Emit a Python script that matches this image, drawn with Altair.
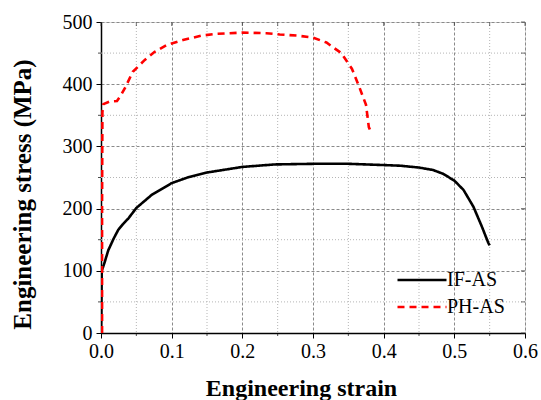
import altair as alt
import pandas as pd

# ---- data ----
if_strain = [0.0, 0.0005, 0.0008, 0.001, 0.0047, 0.0103, 0.018, 0.0245, 0.031, 0.0386, 0.05, 0.0717,
             0.1, 0.125, 0.15, 0.2, 0.246, 0.3, 0.35, 0.4, 0.423, 0.45, 0.47, 0.484, 0.5, 0.513,
             0.527, 0.539, 0.548, 0.55]
if_stress = [0, 30, 70, 100, 112, 133, 152, 166, 175, 184, 201, 222,
             241, 251, 258, 267, 271, 272, 272, 270, 269, 266, 262, 256, 245, 230,
             203, 171, 145, 141]

ph_strain = [0.0015, 0.0015, 0.002, 0.0035, 0.012, 0.0226, 0.028, 0.034, 0.045, 0.062, 0.076, 0.093,
             0.116, 0.142, 0.164, 0.182, 0.2, 0.234, 0.253, 0.279, 0.3, 0.319, 0.34, 0.355,
             0.365, 0.375, 0.379, 0.383]
ph_stress = [0, 200, 355, 368, 372, 373, 382, 394, 420, 439, 452, 463,
             471, 478, 481, 482, 483, 482, 480, 478, 475, 467, 450, 425,
             397, 367, 331, 320]

series_names = ["IF-AS", "PH-AS"]
series_colors = ["black", "red"]
series_dash = [[1, 0], [7, 5]]

x_major = [0.0, 0.1, 0.2, 0.3, 0.4, 0.5, 0.6]
x_minor = [0.05, 0.15, 0.25, 0.35, 0.45, 0.55]
y_major = [0, 100, 200, 300, 400, 500]
y_minor = [50, 150, 250, 350, 450]

FONT = "Liberation Serif"

rows = []
for i, (s, t) in enumerate(zip(if_strain, if_stress)):
    rows.append({"strain": s, "stress": t, "series": series_names[0], "idx": i})
for i, (s, t) in enumerate(zip(ph_strain, ph_stress)):
    rows.append({"strain": s, "stress": t, "series": series_names[1], "idx": i})
df = pd.DataFrame(rows)

xscale = alt.Scale(domain=[0, 0.6], nice=False, zero=False)
yscale = alt.Scale(domain=[0, 500], nice=False)

xaxis = alt.Axis(values=x_major, format=".1f", title="Engineering strain",
                 grid=True, gridColor="#8a8a8a", gridDash=[3, 2], gridWidth=1,
                 tickSize=5, tickColor="black", tickWidth=1,
                 domainColor="black", domainWidth=1.5, labelFlush=False,
                 labelFont=FONT, labelFontSize=20, labelColor="black", labelPadding=3,
                 titleFont=FONT, titleFontSize=24, titleFontWeight="bold", titleColor="black",
                 titleX=200, titleY=62, titleBaseline="alphabetic", titleAlign="center")
yaxis = alt.Axis(values=y_major, title="Engineering stress (MPa)",
                 grid=True, gridColor="#8a8a8a", gridDash=[3, 2], gridWidth=1,
                 tickSize=5, tickColor="black", tickWidth=1,
                 domainColor="black", domainWidth=1.5, labelFlush=False,
                 labelFont=FONT, labelFontSize=20, labelColor="black", labelPadding=4,
                 titleFont=FONT, titleFontSize=25, titleFontWeight="bold", titleColor="black",
                 titleX=-71, titleY=172, titleBaseline="alphabetic", titleAlign="center",
                 titleAngle=270)


def X(field):
    return alt.X(field, scale=xscale, axis=xaxis, title="Engineering strain")


def Y(field):
    return alt.Y(field, scale=yscale, axis=yaxis, title="Engineering stress (MPa)")


xminor_df = pd.DataFrame({"v": x_minor})
yminor_df = pd.DataFrame({"v": y_minor})
xall_df = pd.DataFrame({"v": x_major + x_minor})
yall_df = pd.DataFrame({"v": y_major + y_minor})

# minor grid
grid_x_minor = alt.Chart(xminor_df).mark_rule(color="#b5b5b5", strokeDash=[1, 2], strokeWidth=1).encode(
    x=X("v:Q"))
grid_y_minor = alt.Chart(yminor_df).mark_rule(color="#b5b5b5", strokeDash=[1, 2], strokeWidth=1).encode(
    y=Y("v:Q"))

# minor outward ticks (bottom / left)
tick_bottom = alt.Chart(xminor_df).mark_tick(orient="vertical", size=3, thickness=1, color="black", yOffset=1.5).encode(
    x=X("v:Q"), y=alt.datum(0, scale=yscale, axis=yaxis, title="Engineering stress (MPa)"))
tick_left = alt.Chart(yminor_df).mark_tick(orient="horizontal", size=3, thickness=1, color="black", xOffset=-1.5).encode(
    y=Y("v:Q"), x=alt.datum(0, scale=xscale, axis=xaxis, title="Engineering strain"))
# inward ticks (top / right)
tick_top = alt.Chart(xall_df).mark_tick(orient="vertical", size=4, thickness=1, color="#333", yOffset=2).encode(
    x=X("v:Q"), y=alt.datum(500, scale=yscale, axis=yaxis, title="Engineering stress (MPa)"))
tick_right = alt.Chart(yall_df).mark_tick(orient="horizontal", size=4, thickness=1, color="#333", xOffset=-2).encode(
    y=Y("v:Q"), x=alt.datum(0.6, scale=xscale, axis=xaxis, title="Engineering strain"))

lines = alt.Chart(df).mark_line(strokeWidth=2.6, strokeCap="butt", clip=True).encode(
    x=X("strain:Q"),
    y=Y("stress:Q"),
    color=alt.Color("series:N", scale=alt.Scale(domain=series_names, range=series_colors),
                    legend=alt.Legend(title=None, orient="none", legendX=311, legendY=248,
                                      symbolType="M-4.9,0L4.9,0", symbolSize=100, symbolStrokeWidth=2.6,
                                      labelFont=FONT, labelFontSize=20, labelColor="black",
                                      labelOffset=15, rowPadding=7, padding=0)),
    strokeDash=alt.StrokeDash("series:N", scale=alt.Scale(domain=series_names, range=series_dash), legend=None),
    order="idx:Q",
)

chart = alt.layer(grid_x_minor, grid_y_minor, lines, tick_bottom, tick_left, tick_top, tick_right).properties(
    width=424, height=311,
    autosize=alt.AutoSizeParams(type="none"),
    padding={"left": 101, "top": 22, "right": 16, "bottom": 67},
).configure_view(stroke="#333", strokeWidth=1.5).configure_axis(
    labelFont=FONT, titleFont=FONT
).configure_legend(labelFont=FONT).configure(background="white")

chart.save("out.html", embed_options={"renderer": "svg", "actions": False})
